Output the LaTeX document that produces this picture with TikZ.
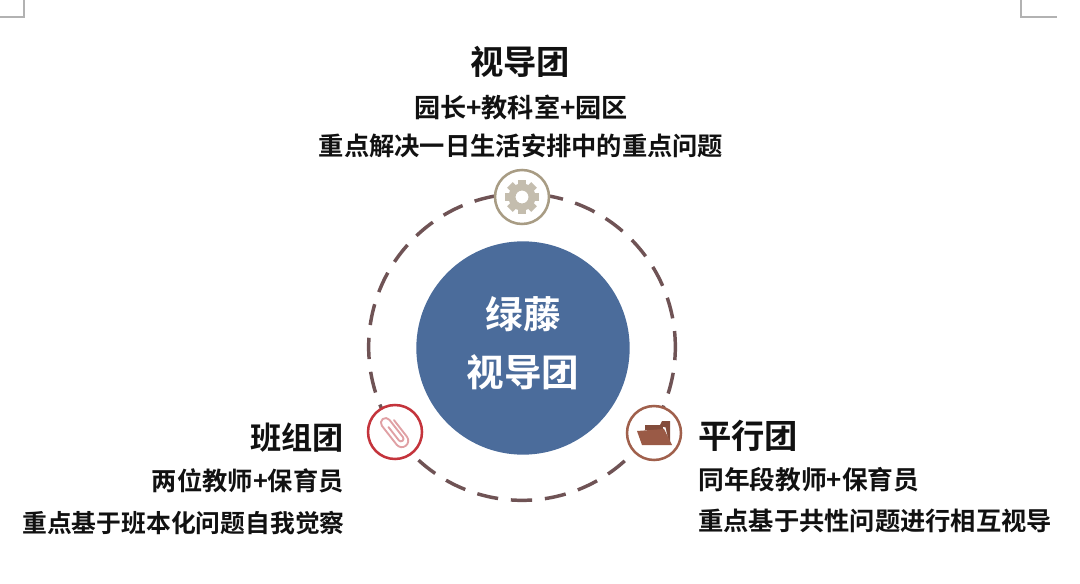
\documentclass[tikz,border=0pt]{standalone}
\usepackage{fontspec}
\setmainfont{Noto Sans CJK SC}[BoldFont={Noto Sans CJK SC Bold}]
\usetikzlibrary{calc}
\definecolor{ringc}{HTML}{6F5355}
\definecolor{bluec}{HTML}{4B6C9B}
\definecolor{gearc}{HTML}{A89C84}
\definecolor{gearf}{HTML}{C4BDAE}
\definecolor{redc}{HTML}{C4343C}
\definecolor{clipc}{HTML}{E0A0A4}
\definecolor{brownc}{HTML}{A0604C}
\definecolor{folderc}{HTML}{9A5A46}
\definecolor{txt}{HTML}{111111}
\tikzset{
  px/.style={x=0.75pt,y=-0.75pt},
  titletext/.style={font=\fontsize{25pt}{25pt}\selectfont\bfseries,text=txt,inner sep=0pt},
  subtext/.style={font=\fontsize{#1pt}{#1pt}\selectfont\bfseries,text=txt,inner sep=0pt},
  subtext/.default=18.95,
  centertext/.style={font=\fontsize{28.2pt}{28.2pt}\selectfont\bfseries,text=white,inner sep=0pt},
  iconring/.style={circle,fill=white,line width=1.9pt,minimum size=40.5pt,inner sep=0pt},
  cropmark/.style={draw=black!30,line width=1pt},
}
\begin{document}
\begin{tikzpicture}[px]
\useasboundingbox (0,0) rectangle (1080,584);
% corner marks
\coordinate (cl1) at (0,17); \coordinate (cl2) at (24,17); \coordinate (cl3) at (24,0);
\draw[cropmark] (cl1) -- (cl2) -- (cl3);
\coordinate (cr1) at (1057,17); \coordinate (cr2) at (1021,17); \coordinate (cr3) at (1021,0);
\draw[cropmark] (cr1) -- (cr2) -- (cr3);
% ring
\coordinate (ringc) at (522,347);
\draw[ringc,line width=2.6pt,dash pattern=on 16pt off 9.6pt,dash phase=4pt] (ringc) circle[radius=115pt];
% center
\node[circle,fill=bluec,minimum size=160pt,inner sep=0pt] (hub) at (523,348) {};
\node[centertext] (hub1) at (523,314) {绿藤};
\node[centertext] (hub2) at (523,372) {视导团};
% icons
\node[iconring,draw=gearc] (top) at (522,197) {};
\node[iconring,draw=redc] (left) at (395,432) {};
\node[iconring,draw=brownc] (right) at (654,433) {};
% gear
\begin{scope}[shift={(top.center)}]
  \foreach \a in {0,45,...,315}
    \fill[gearf,rotate=\a] (-4,-17) rectangle (4,-10);
  \fill[gearf,even odd rule] (0,0) circle[radius=13.5] (0,0) circle[radius=6.5];
\end{scope}
% paperclip
\begin{scope}[shift={(left.center)},x=0.75pt,y=0.75pt,rotate=38]
  \draw[clipc,line width=1.4pt,line cap=round,line join=round]
    (6.5,10) -- (6.5,-11) arc[start angle=0,end angle=-180,radius=6.5] -- (-6.5,13)
    arc[start angle=180,end angle=0,radius=4.8] -- (3.1,-9)
    arc[start angle=0,end angle=-180,radius=2.6] -- (-2.1,8);
\end{scope}
% folder
\begin{scope}[shift={(right.center)}]
  \fill[folderc!85!black] (-9,-3) -- (-9,-8) -- (6,-8) -- (8,-12) -- (16,-12) -- (16,8) -- (12,8) -- (9,-3) -- cycle;
  \fill[white] (9,-6) -- (11.5,-5.5) -- (14.5,8) -- (16,12) -- (13,12) -- cycle;
  \fill[folderc] (-17,-2) -- (10,-4) -- (18,12) -- (-12,12) -- cycle;
\end{scope}
% labels
\node[titletext] (t1) at (520,62) {视导团};
\node[subtext=19.6] (t2) at (521,107) {园长+教科室+园区};
\node[subtext] (t3) at (521,146) {重点解决一日生活安排中的重点问题};
\node[titletext,anchor=east,font=\fontsize{23.4pt}{23.4pt}\selectfont\bfseries] (l1) at (344,438) {班组团};
\node[subtext] [anchor=east] (l2) at (344,481) {两位教师+保育员};
\node[subtext=18.6] [anchor=east] (l3) at (345,523) {重点基于班本化问题自我觉察};
\node[titletext,anchor=west] (r1) at (698,436) {平行团};
\node[subtext=19.3] [anchor=west] (r2) at (698,480) {同年段教师+保育员};
\node[subtext] [anchor=west] (r3) at (698,521) {重点基于共性问题进行相互视导};
\end{tikzpicture}
\end{document}
